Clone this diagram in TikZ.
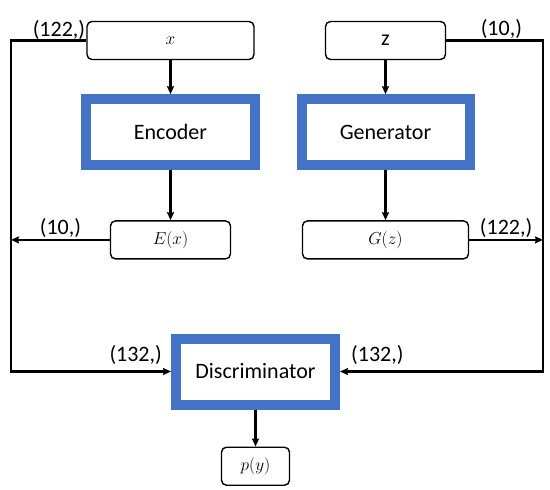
\documentclass[tikz,border=0pt]{standalone}
\usepackage{fontspec}
\setmainfont{Carlito}
\usetikzlibrary{arrows.meta, positioning}
\definecolor{ganblue}{HTML}{4472C4}
\tikzset{
  io/.style={rectangle, rounded corners=5pt, draw=black, line width=1.4pt, fill=white,
    minimum height=38pt, inner sep=2pt, font=\fontsize{19}{22}\selectfont},
  net/.style={rectangle, draw=ganblue, line width=10pt, fill=white,
    minimum width=169pt, minimum height=66pt, font=\fontsize{22}{26}\selectfont},
  arrow/.style={-{Stealth[length=8pt, width=7pt, inset=1pt]}, line width=2.4pt, black},
  dimlabel/.style={font=\fontsize{22}{26}\selectfont, inner sep=1pt},
}

\begin{document}
\begin{tikzpicture}[x=1pt, y=-1pt]
\useasboundingbox (0,0) rectangle (550,490);
% encoder side
\node[io, minimum width=167pt] (x) at (170.5,40.5) {$x$};
\node[net, below=34pt of x] (enc) {Encoder};
\node[io, minimum width=120pt, below=50pt of enc] (ex) {$E(x)$};
% generator side
\node[io, minimum width=120pt, font=\fontsize{22}{26}\selectfont] (z) at (385.5,40.5) {z};
\node[net, minimum width=168pt, below=34pt of z] (gen) {Generator};
\node[io, minimum width=166pt, below=50pt of gen] (gz) {$G(z)$};
% discriminator
\node[net, minimum width=159pt] (disc) at (255.5,371.5) {Discriminator};
\node[io, minimum width=68pt, below=37pt of disc] (py) {$p(y)$};
\coordinate (lt) at (11,0);
\coordinate (rt) at (543,0);

\foreach \a/\b in {x/enc,enc/ex,z/gen,gen/gz,disc/py}
  \draw[arrow] (\a)--(\b);

\draw[arrow] (x.west) -- (x.west -| lt) -- (disc.west -| lt) -- (disc.west);
\draw[arrow] (z.east) -- node[dimlabel, above, pos=0.57] (lz) {(10,)} (z.east -| rt)
  -- (disc.east -| rt) -- (disc.east);
\draw[arrow] (ex.west) -- node[dimlabel, above] (lex) {(10,)} (ex.west -| lt);
\draw[arrow] (gz.east) -- node[dimlabel, above] (lgz) {(122,)} (gz.east -| rt);
\node[dimlabel, above left] (lx) at (x.west) {(122,)};
\node[dimlabel, above left, xshift=-8pt, yshift=6pt] (ld1) at (disc.west) {(132,)};
\node[dimlabel, above right, xshift=10pt, yshift=6pt] (ld2) at (disc.east) {(132,)};
\end{tikzpicture}
\end{document}
